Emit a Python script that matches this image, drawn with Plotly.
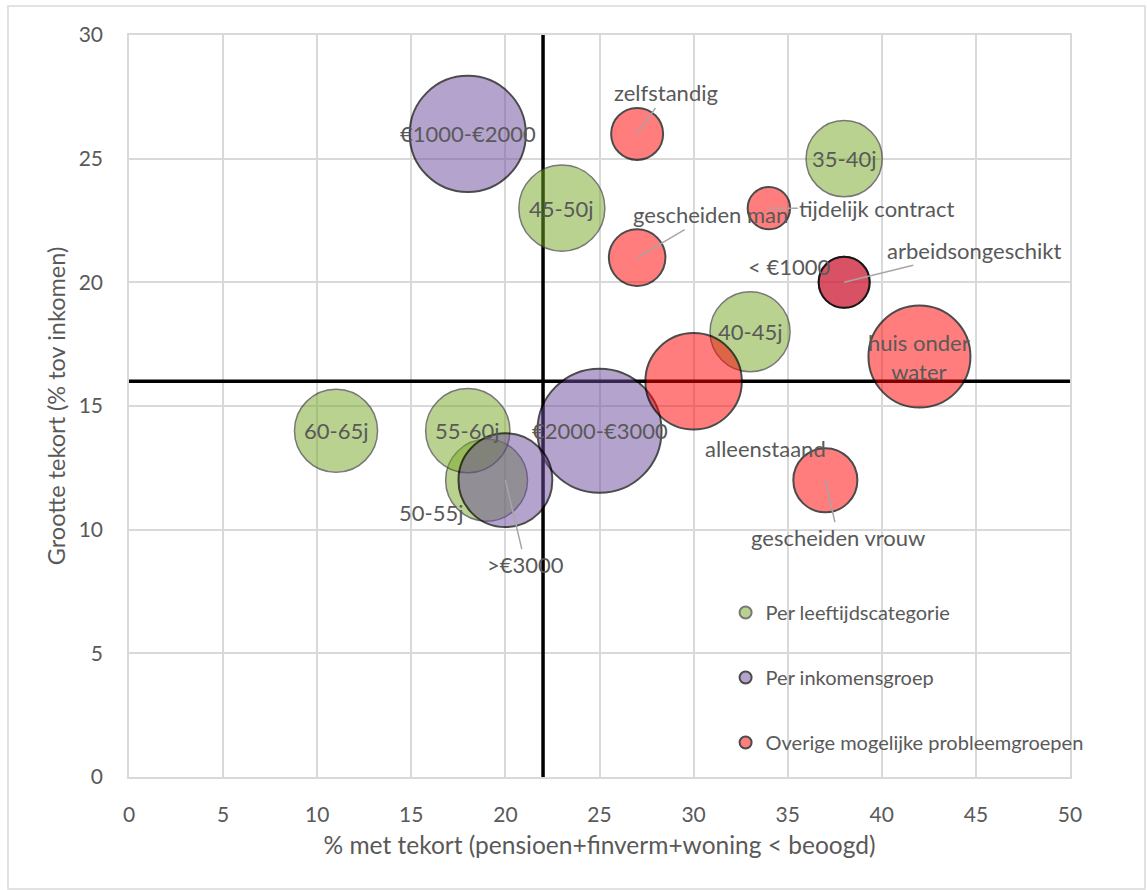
import plotly.graph_objects as go

# ---------------- data ----------------
leeftijd_labels = ["35-40j", "40-45j", "45-50j", "50-55j", "55-60j", "60-65j"]
leeftijd_x = [38, 33, 23, 19, 18, 11]
leeftijd_y = [25, 18, 23, 12, 14, 14]
leeftijd_size = [58, 64, 74, 67, 71, 69]

inkomen_labels = ["< €1000", "€1000-€2000", "€2000-€3000", ">€3000"]
inkomen_x = [38, 18, 25, 20]
inkomen_y = [20, 26, 14, 12]
inkomen_size = [26, 135, 154, 88]

overig_labels = ["zelfstandig", "tijdelijk contract", "gescheiden man", "arbeidsongeschikt",
                 "huis onder water", "alleenstaand", "gescheiden vrouw"]
overig_x = [27, 34, 27, 38, 42, 30, 37]
overig_y = [26, 23, 21, 20, 17, 16, 12]
overig_size = [27, 18, 32, 26, 104, 93, 41]

grens_x = 22
grens_y = 16

x_ticks = [0, 5, 10, 15, 20, 25, 30, 35, 40, 45, 50]
y_ticks = [0, 5, 10, 15, 20, 25, 30]

# ---------------- style ----------------
FONT = "Lato, 'Open Sans', sans-serif"
TXT = "#595959"
GRID = "#D9D9D9"
SIZEREF = 0.02

# label placement (pixel offsets, dy positive = down): (dx, dy, leader line)
label_style = {
    "zelfstandig": (29, -41, True),
    "gescheiden man": (73, -43, True),
    "tijdelijk contract": (108, 0, True),
    "arbeidsongeschikt": (130, -32, True),
    "gescheiden vrouw": (13, 57, True),
    ">€3000": (20, 84, True),
    "< €1000": (-55, -16, False),
    "alleenstaand": (72, 67, False),
    "50-55j": (-55, 32, False),
}

fig = go.Figure()

series = [
    ("Per leeftijdscategorie", leeftijd_x, leeftijd_y, leeftijd_size,
     "rgba(118,168,36,0.72)", "#3f3f3f", 1.5, "g"),
    ("Per inkomensgroep", inkomen_x, inkomen_y, inkomen_size,
     "rgba(108,76,158,0.72)", "#000000", 2, "p"),
    ("Overige mogelijke probleemgroepen", overig_x, overig_y, overig_size,
     "rgba(255,0,0,0.72)", "#000000", 2, "r"),
]
for name, xs, ys, ss, col, lcol, lw, grp in series:
    fig.add_trace(go.Scatter(
        x=xs, y=ys, mode="markers", name=name, legendgroup=grp,
        marker=dict(size=ss, sizemode="area", sizeref=SIZEREF, color=col,
                    line=dict(color=lcol, width=lw)),
        hoverinfo="skip",
    ))

annotations = []
for labels, xs, ys in [(leeftijd_labels, leeftijd_x, leeftijd_y),
                       (inkomen_labels, inkomen_x, inkomen_y),
                       (overig_labels, overig_x, overig_y)]:
    for lab, x, y in zip(labels, xs, ys):
        text = lab.replace("huis onder water", "huis onder<br>water")
        dx, dy, leader = label_style.get(lab, (0, 0, False))
        if leader:
            annotations.append(dict(
                x=x, y=y, xref="x", yref="y", text=text, showarrow=True,
                ax=dx, ay=dy, arrowhead=0, arrowwidth=1.5, arrowcolor="#A6A6A6",
                standoff=0, startstandoff=0,
                font=dict(family=FONT, size=22, color=TXT)))
        else:
            annotations.append(dict(
                x=x, y=y, xref="x", yref="y", text=text, showarrow=False,
                xshift=dx, yshift=-dy,
                font=dict(family=FONT, size=22, color=TXT)))

shapes = [
    dict(type="line", xref="x", yref="y", x0=grens_x, x1=grens_x, y0=0, y1=30,
         line=dict(color="black", width=3.5), layer="between"),
    dict(type="line", xref="x", yref="y", x0=0, x1=50, y0=grens_y, y1=grens_y,
         line=dict(color="black", width=3.5), layer="between"),
    dict(type="rect", xref="paper", yref="paper",
         x0=-0.1286, x1=1.0797, y0=-0.1509, y1=1.0391,
         line=dict(color=GRID, width=1.5), fillcolor="rgba(0,0,0,0)", layer="below"),
]

fig.update_layout(
    width=1147, height=890,
    margin=dict(l=129, r=77, t=35, b=113),
    paper_bgcolor="white", plot_bgcolor="white",
    font=dict(family=FONT, color=TXT),
    showlegend=True,
    legend=dict(x=0.634, y=0.248, xanchor="left", yanchor="top",
                traceorder="grouped", tracegroupgap=36, itemsizing="constant",
                itemwidth=30,
                bgcolor="rgba(0,0,0,0)", font=dict(family=FONT, size=20, color=TXT)),
    annotations=annotations,
    shapes=shapes,
    xaxis=dict(range=[0, 50], tickvals=x_ticks, showgrid=True, gridcolor=GRID,
               gridwidth=1.5, zeroline=False, showline=True, linecolor=GRID,
               linewidth=1.5, mirror=True, ticks="", ticklabelstandoff=18,
               tickfont=dict(family=FONT, size=21, color=TXT),
               title=dict(text="% met tekort (pensioen+finverm+woning < beoogd)",
                          font=dict(family=FONT, size=24.5, color=TXT), standoff=12)),
    yaxis=dict(range=[0, 30], tickvals=y_ticks, showgrid=True, gridcolor=GRID,
               gridwidth=1.5, zeroline=False, showline=True, linecolor=GRID,
               linewidth=1.5, mirror=True, ticks="", ticklabelstandoff=20,
               tickfont=dict(family=FONT, size=21, color=TXT),
               title=dict(text="Grootte tekort (% tov inkomen)",
                          font=dict(family=FONT, size=23.5, color=TXT), standoff=6)),
)

fig.write_html("out.html")
